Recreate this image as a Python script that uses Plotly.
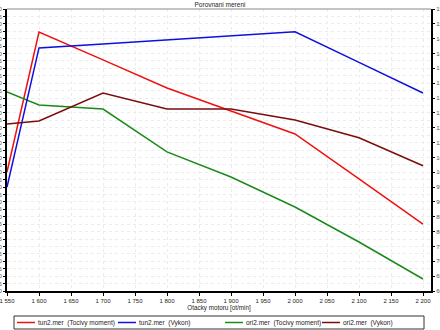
import plotly.graph_objects as go

rpm = [1550, 1600, 1700, 1800, 1900, 2000, 2100, 2200]
tun2_moment = [460.2, 554.5, 535.7, 516.8, 501.3, 485.8, 455.5, 425.1]
tun2_vykon = [95.0, 141.9, 143.2, 144.6, 145.9, 147.3, 137.0, 126.7]
ori2_moment = [514.1, 505.3, 502.6, 473.7, 456.8, 436.6, 413.0, 388.1]
ori2_vykon = [116.3, 117.3, 126.7, 121.3, 121.3, 117.6, 111.6, 102.2]

series_names = ["tun2.mer  (Tocivy moment)", "tun2.mer  (Vykon)",
                "ori2.mer  (Tocivy moment)", "ori2.mer  (Vykon)"]

x_ticks = [1550, 1600, 1650, 1700, 1750, 1800, 1850, 1900, 1950, 2000, 2050, 2100, 2150, 2200]
x_tick_labels = ["1 550", "1 600", "1 650", "1 700", "1 750", "1 800", "1 850", "1 900",
                 "1 950", "2 000", "2 050", "2 100", "2 150", "2 200"]

FONT = "Liberation Sans, Arial, sans-serif"
COLORS = ["#ee1111", "#1010dd", "#1a8a1a", "#7a0c0c"]

W, H = 440, 330
ML, MR, MT, MB = 7, 9, 9, 39
PW, PH = W - ML - MR, H - MT - MB


def px(xp):
    return (xp - ML) / PW


def py(yp):
    return (H - MB - yp) / PH


fig = go.Figure()
series = [(tun2_moment, "y"), (tun2_vykon, "y2"), (ori2_moment, "y"), (ori2_vykon, "y2")]
for (vals, ax), name, col in zip(series, series_names, COLORS):
    fig.add_trace(go.Scatter(x=rpm, y=vals, mode="lines", name=name,
                             line=dict(color=col, width=1.5), yaxis=ax, showlegend=False))

# hand-laid legend (one bordered row, like the reference)
shapes = [
    dict(type="line", xref="paper", yref="paper", x0=0, x1=1, y0=1, y1=1,
         line=dict(color="#888", width=1)),
    dict(type="rect", xref="paper", yref="paper", x0=px(14), x1=px(424), y0=py(329), y1=py(316),
         line=dict(color="#333", width=1), fillcolor="white", layer="above"),
]
annotations = []
legend_starts = [17, 118, 225, 322]
ly = 322.5
for start, name, col in zip(legend_starts, series_names, COLORS):
    shapes.append(dict(type="line", xref="paper", yref="paper", x0=px(start), x1=px(start + 18),
                       y0=py(ly), y1=py(ly), line=dict(color=col, width=1.5), layer="above"))
    annotations.append(dict(text=name, xref="paper", yref="paper", x=px(start + 19), y=py(ly),
                            xanchor="left", yanchor="middle", showarrow=False,
                            font=dict(family=FONT, size=6.5, color="#222")))

fig.update_layout(
    width=W, height=H,
    margin=dict(l=ML, r=MR, t=MT, b=MB, pad=0, autoexpand=False),
    paper_bgcolor="white", plot_bgcolor="white",
    font=dict(family=FONT, size=6, color="#222"),
    title=dict(text="Porovnani mereni", x=0.5, xanchor="center", y=0.985, yanchor="middle",
               font=dict(family=FONT, size=6.5, color="#222")),
    showlegend=False,
    xaxis=dict(range=[1550, 2212.5], tickvals=x_ticks, ticktext=x_tick_labels,
               showline=True, linecolor="black", linewidth=2, ticks="outside", ticklen=3,
               tickcolor="black", showgrid=True, gridcolor="#ececec", griddash="dot",
               zeroline=False, automargin=False, ticklabeloverflow="allow",
               tickfont=dict(family=FONT, size=6, color="#222"),
               title=dict(text="Otacky motoru [ot/min]", standoff=2,
                          font=dict(family=FONT, size=6.3, color="#222"))),
    yaxis=dict(range=[380, 570], dtick=5, showline=True, linecolor="black", linewidth=2,
               ticks="outside", ticklen=2, tickcolor="black", showgrid=True,
               gridcolor="#ececec", griddash="dot", zeroline=False, automargin=False,
               tickfont=dict(size=6, color="#555")),
    yaxis2=dict(range=[60, 155], dtick=5, overlaying="y", side="right", showline=True,
                linecolor="black", linewidth=2, ticks="outside", ticklen=2, tickcolor="black",
                showgrid=False, zeroline=False, automargin=False,
                tickfont=dict(size=6, color="#555")),
    shapes=shapes,
    annotations=annotations,
)

fig.write_html("out.html")
